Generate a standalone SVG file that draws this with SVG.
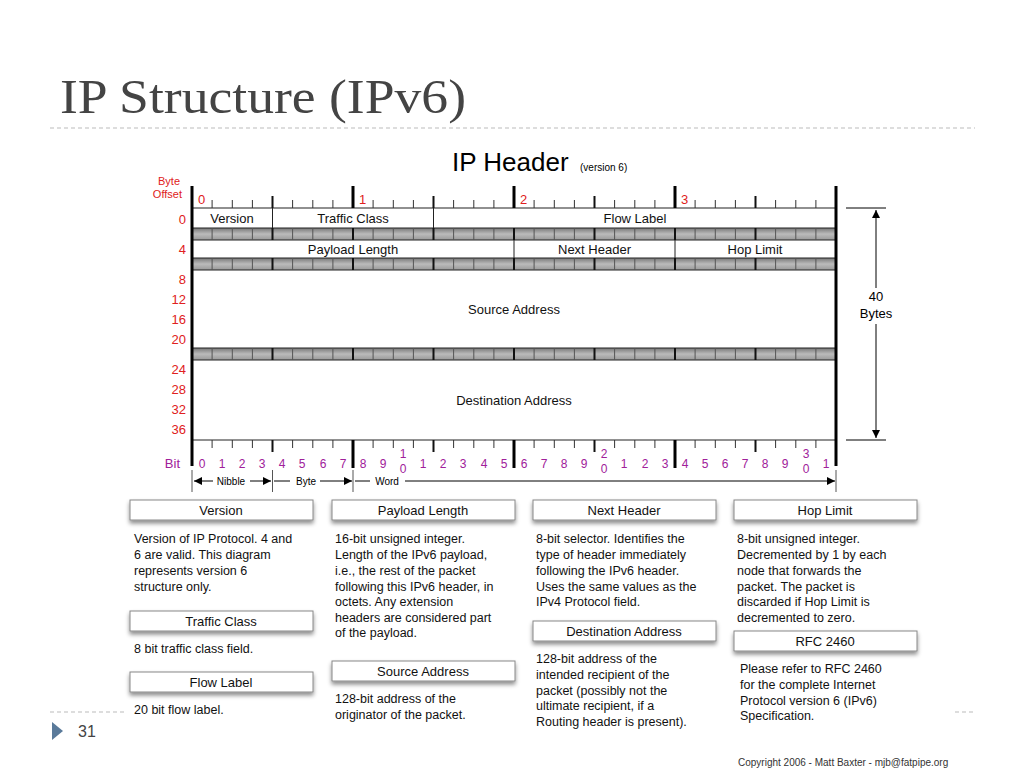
<svg xmlns="http://www.w3.org/2000/svg" width="1024" height="768" viewBox="0 0 1024 768">
<defs>
<marker id="ah" viewBox="0 0 10 10" refX="10" refY="5" markerWidth="10" markerHeight="8" orient="auto-start-reverse" markerUnits="userSpaceOnUse"><path d="M0,0L10,5L0,10z" fill="#000"/></marker>
<linearGradient id="band" x1="0" y1="0" x2="0" y2="1"><stop offset="0" stop-color="#777"/><stop offset="0.5" stop-color="#bbb"/><stop offset="1" stop-color="#999"/></linearGradient>
<filter id="sh" x="-5%" y="-30%" width="110%" height="180%"><feDropShadow dx="0" dy="3" stdDeviation="2" flood-opacity="0.45"/></filter>
</defs>
<style>
text{font-family:"Liberation Sans",Arial,sans-serif}
.f{font-size:13px;text-anchor:middle;fill:#111}
.r{font-size:13px;fill:#e02020;text-anchor:end}
.b{font-size:12px;fill:#a0209a;text-anchor:middle}
.d{font-size:12.5px;fill:#111}
.h{font-size:13px;text-anchor:middle;fill:#111}
.box{fill:#fff;stroke:#888;stroke-width:1}
.row{fill:#fff;stroke:#222;stroke-width:1}
.bd{fill:url(#band)}
</style>
<rect width="1024" height="768" fill="#fff"/>
<text x="60" y="113" textLength="406" lengthAdjust="spacingAndGlyphs" style="font-family:'Liberation Serif',serif;font-size:48px;fill:#444">IP Structure (IPv6)</text>
<line x1="50" y1="128" x2="975" y2="128" stroke="#bbb" stroke-dasharray="4,3"/>
<text x="452" y="171" style="font-size:26px;fill:#000">IP Header</text>
<text x="580" y="171" style="font-size:10px;fill:#000">(version 6)</text>
<g id="offsets">
<text x="180" y="185" class="r" style="font-size:11px">Byte</text>
<text x="182" y="198" class="r" style="font-size:11px">Offset</text>
<text x="186" y="224" class="r">0</text><text x="186" y="254" class="r">4</text><text x="186" y="284" class="r">8</text>
<text x="186" y="304" class="r">12</text><text x="186" y="324" class="r">16</text><text x="186" y="344" class="r">20</text>
<text x="186" y="374" class="r">24</text><text x="186" y="394" class="r">28</text><text x="186" y="414" class="r">32</text><text x="186" y="434" class="r">36</text>
<text x="198" y="204" style="font-size:13px;fill:#e02020">0</text><text x="359" y="204" style="font-size:13px;fill:#e02020">1</text>
<text x="520" y="204" style="font-size:13px;fill:#e02020">2</text><text x="681" y="204" style="font-size:13px;fill:#e02020">3</text>
</g>
<g id="table">
<rect x="192" y="228" width="644" height="12" class="bd"/>
<rect x="192" y="258" width="644" height="12" class="bd"/>
<rect x="192" y="348" width="644" height="12" class="bd"/>
<g id="version_row"><rect x="192" y="208" width="644" height="20" class="row"/>
<line x1="272.5" y1="208" x2="272.5" y2="228" stroke="#222"/><line x1="433.5" y1="208" x2="433.5" y2="228" stroke="#222"/>
<text x="232" y="223" class="f">Version</text><text x="353" y="223" class="f">Traffic Class</text><text x="635" y="223" class="f">Flow Label</text></g>
<g id="payload_row"><rect x="192" y="240" width="644" height="18" class="row"/>
<line x1="514" y1="240" x2="514" y2="258" stroke="#222"/><line x1="675" y1="240" x2="675" y2="258" stroke="#222"/>
<text x="353" y="254" class="f">Payload Length</text><text x="594.5" y="254" class="f">Next Header</text><text x="755" y="254" class="f">Hop Limit</text></g>
<g id="source_row"><rect x="192" y="270" width="644" height="78" class="row"/><text x="514" y="314" class="f">Source Address</text></g>
<g id="dest_row"><rect x="192" y="360" width="644" height="80" class="row"/><text x="514" y="405" class="f">Destination Address</text></g>
<path stroke="#333" stroke-width="1" fill="none" d="M212.1,200v8M232.3,200v8M252.4,200v8M292.6,200v8M312.8,200v8M332.9,200v8M373.1,200v8M393.3,200v8M413.4,200v8M453.6,200v8M473.8,200v8M493.9,200v8M534.1,200v8M554.3,200v8M574.4,200v8M614.6,200v8M634.8,200v8M654.9,200v8M695.1,200v8M715.3,200v8M735.4,200v8M775.6,200v8M795.8,200v8M815.9,200v8
M212.1,440v8M232.3,440v8M252.4,440v8M292.6,440v8M312.8,440v8M332.9,440v8M373.1,440v8M393.3,440v8M413.4,440v8M453.6,440v8M473.8,440v8M493.9,440v8M534.1,440v8M554.3,440v8M574.4,440v8M614.6,440v8M634.8,440v8M654.9,440v8M695.1,440v8M715.3,440v8M735.4,440v8M775.6,440v8M795.8,440v8M815.9,440v8"/>
<path stroke="#555" stroke-width="1" fill="none" d="M212.1,228v12M232.3,228v12M252.4,228v12M292.6,228v12M312.8,228v12M332.9,228v12M373.1,228v12M393.3,228v12M413.4,228v12M453.6,228v12M473.8,228v12M493.9,228v12M534.1,228v12M554.3,228v12M574.4,228v12M614.6,228v12M634.8,228v12M654.9,228v12M695.1,228v12M715.3,228v12M735.4,228v12M775.6,228v12M795.8,228v12M815.9,228v12
M212.1,258v12M232.3,258v12M252.4,258v12M292.6,258v12M312.8,258v12M332.9,258v12M373.1,258v12M393.3,258v12M413.4,258v12M453.6,258v12M473.8,258v12M493.9,258v12M534.1,258v12M554.3,258v12M574.4,258v12M614.6,258v12M634.8,258v12M654.9,258v12M695.1,258v12M715.3,258v12M735.4,258v12M775.6,258v12M795.8,258v12M815.9,258v12
M212.1,348v12M232.3,348v12M252.4,348v12M292.6,348v12M312.8,348v12M332.9,348v12M373.1,348v12M393.3,348v12M413.4,348v12M453.6,348v12M473.8,348v12M493.9,348v12M534.1,348v12M554.3,348v12M574.4,348v12M614.6,348v12M634.8,348v12M654.9,348v12M695.1,348v12M715.3,348v12M735.4,348v12M775.6,348v12M795.8,348v12M815.9,348v12"/>
<path stroke="#111" stroke-width="2" fill="none" d="M272.5,196v12M433.5,196v12M594.5,196v12M755.5,196v12M272.5,440v12M433.5,440v12M594.5,440v12M755.5,440v12M272.5,228v12M433.5,228v12M594.5,228v12M755.5,228v12M272.5,258v12M433.5,258v12M594.5,258v12M755.5,258v12M353,258v12M514,258v12M675,258v12M353,228v12M514,228v12M675,228v12M272.5,348v12M433.5,348v12M594.5,348v12M755.5,348v12M353,348v12M514,348v12M675,348v12"/>
<path stroke="#000" stroke-width="3" fill="none" d="M192,186v280M836,186v280M353,186v22M514,186v22M675,186v22M353,440v28M514,440v28M675,440v28"/>
</g>
<g id="bits">
<text x="180" y="468" style="font-size:13px;fill:#a0209a;text-anchor:end">Bit</text>
<text x="202" y="468" class="b">0</text><text x="222" y="468" class="b">1</text><text x="242" y="468" class="b">2</text><text x="262" y="468" class="b">3</text><text x="282" y="468" class="b">4</text><text x="302" y="468" class="b">5</text><text x="323" y="468" class="b">6</text><text x="343" y="468" class="b">7</text><text x="363" y="468" class="b">8</text><text x="383" y="468" class="b">9</text>
<text x="403" y="458" class="b">1</text><text x="403" y="473" class="b">0</text>
<text x="423" y="468" class="b">1</text><text x="443" y="468" class="b">2</text><text x="463" y="468" class="b">3</text><text x="484" y="468" class="b">4</text><text x="504" y="468" class="b">5</text><text x="524" y="468" class="b">6</text><text x="544" y="468" class="b">7</text><text x="564" y="468" class="b">8</text><text x="584" y="468" class="b">9</text>
<text x="604" y="458" class="b">2</text><text x="604" y="473" class="b">0</text>
<text x="624" y="468" class="b">1</text><text x="645" y="468" class="b">2</text><text x="665" y="468" class="b">3</text><text x="685" y="468" class="b">4</text><text x="705" y="468" class="b">5</text><text x="725" y="468" class="b">6</text><text x="745" y="468" class="b">7</text><text x="765" y="468" class="b">8</text><text x="785" y="468" class="b">9</text>
<text x="806" y="458" class="b">3</text><text x="806" y="473" class="b">0</text><text x="826" y="468" class="b">1</text>
</g>
<g id="connectors" stroke="#000" fill="none">
<line x1="192" y1="470" x2="192" y2="492" stroke="#555"/><line x1="272.5" y1="470" x2="272.5" y2="492" stroke="#555"/><line x1="353" y1="470" x2="353" y2="492" stroke="#555"/><line x1="836" y1="470" x2="836" y2="492" stroke="#555"/>
<line x1="194" y1="481" x2="213" y2="481" marker-start="url(#ah)"/><line x1="250" y1="481" x2="271" y2="481" marker-end="url(#ah)"/>
<line x1="274" y1="481" x2="290" y2="481"/><line x1="320" y1="481" x2="352" y2="481" marker-end="url(#ah)"/>
<line x1="355" y1="481" x2="370" y2="481"/><line x1="405" y1="481" x2="835" y2="481" marker-end="url(#ah)"/>
<line x1="876" y1="210" x2="876" y2="288" marker-start="url(#ah)"/><line x1="876" y1="324" x2="876" y2="438" marker-end="url(#ah)"/>
<line x1="846" y1="208" x2="886" y2="208"/><line x1="846" y1="440" x2="886" y2="440"/>
</g>
<text x="231" y="485" style="font-size:10px;text-anchor:middle">Nibble</text>
<text x="306" y="485" style="font-size:10px;text-anchor:middle">Byte</text>
<text x="387" y="485" style="font-size:10px;text-anchor:middle">Word</text>
<text x="876" y="301" style="font-size:13px;text-anchor:middle">40</text><text x="876" y="318" style="font-size:13px;text-anchor:middle">Bytes</text>
<g id="desc_version"><rect x="130" y="500" width="183" height="20" class="box" filter="url(#sh)"/><text x="221" y="515" class="h">Version</text>
<text class="d"><tspan x="134" y="543">Version of IP Protocol.  4 and</tspan><tspan x="134" y="559">6 are valid.  This diagram</tspan><tspan x="134" y="575">represents version 6</tspan><tspan x="134" y="591">structure only.</tspan></text></g>
<g id="desc_traffic"><rect x="130" y="611" width="183" height="20" class="box" filter="url(#sh)"/><text x="221" y="626" class="h">Traffic Class</text>
<text x="134" y="653" class="d">8 bit traffic class field.</text></g>
<g id="desc_flow"><rect x="130" y="672" width="183" height="20" class="box" filter="url(#sh)"/><text x="221" y="687" class="h">Flow Label</text>
<text x="134" y="714" class="d">20 bit flow label.</text></g>
<g id="desc_payload"><rect x="332" y="500" width="183" height="20" class="box" filter="url(#sh)"/><text x="423" y="515" class="h">Payload Length</text>
<text class="d"><tspan x="335" y="543">16-bit unsigned integer.</tspan><tspan x="335" y="559">Length of the IPv6 payload,</tspan><tspan x="335" y="575">i.e., the rest of the packet</tspan><tspan x="335" y="591">following this IPv6 header, in</tspan><tspan x="335" y="606">octets.  Any extension</tspan><tspan x="335" y="622">headers are considered part</tspan><tspan x="335" y="637">of the payload.</tspan></text></g>
<g id="desc_source"><rect x="332" y="661" width="183" height="20" class="box" filter="url(#sh)"/><text x="423" y="676" class="h">Source Address</text>
<text class="d"><tspan x="335" y="703">128-bit address of the</tspan><tspan x="335" y="719">originator of the packet.</tspan></text></g>
<g id="desc_next"><rect x="533" y="500" width="183" height="20" class="box" filter="url(#sh)"/><text x="624" y="515" class="h">Next Header</text>
<text class="d"><tspan x="536" y="543">8-bit selector.  Identifies the</tspan><tspan x="536" y="559">type of header immediately</tspan><tspan x="536" y="575">following the IPv6 header.</tspan><tspan x="536" y="591">Uses the same values as the</tspan><tspan x="536" y="606">IPv4 Protocol field.</tspan></text></g>
<g id="desc_dest"><rect x="533" y="621" width="183" height="20" class="box" filter="url(#sh)"/><text x="624" y="636" class="h">Destination Address</text>
<text class="d"><tspan x="536" y="663">128-bit address of the</tspan><tspan x="536" y="679">intended recipient of the</tspan><tspan x="536" y="695">packet (possibly not the</tspan><tspan x="536" y="710">ultimate recipient, if a</tspan><tspan x="536" y="726">Routing header is present).</tspan></text></g>
<g id="desc_hop"><rect x="734" y="500" width="183" height="20" class="box" filter="url(#sh)"/><text x="825" y="515" class="h">Hop Limit</text>
<text class="d"><tspan x="737" y="543">8-bit unsigned integer.</tspan><tspan x="737" y="559">Decremented by 1 by each</tspan><tspan x="737" y="575">node that forwards the</tspan><tspan x="737" y="591">packet. The packet is</tspan><tspan x="737" y="606">discarded if Hop Limit is</tspan><tspan x="737" y="622">decremented to zero.</tspan></text></g>
<g id="desc_rfc"><rect x="734" y="631" width="183" height="20" class="box" filter="url(#sh)"/><text x="825" y="646" class="h">RFC 2460</text>
<text class="d"><tspan x="740" y="673">Please refer to RFC 2460</tspan><tspan x="740" y="689">for the complete Internet</tspan><tspan x="740" y="705">Protocol version 6 (IPv6)</tspan><tspan x="740" y="720">Specification.</tspan></text></g>
<line x1="50" y1="712" x2="125" y2="712" stroke="#bbb" stroke-dasharray="4,3"/>
<line x1="955" y1="712" x2="975" y2="712" stroke="#bbb" stroke-dasharray="4,3"/>
<path d="M52,722L63,731L52,740z" fill="#5a7a9a"/>
<text x="78" y="737" style="font-size:16px;fill:#444">31</text>
<text x="738" y="766" style="font-size:10px;fill:#333">Copyright 2006 - Matt Baxter - mjb@fatpipe.org</text>
</svg>
